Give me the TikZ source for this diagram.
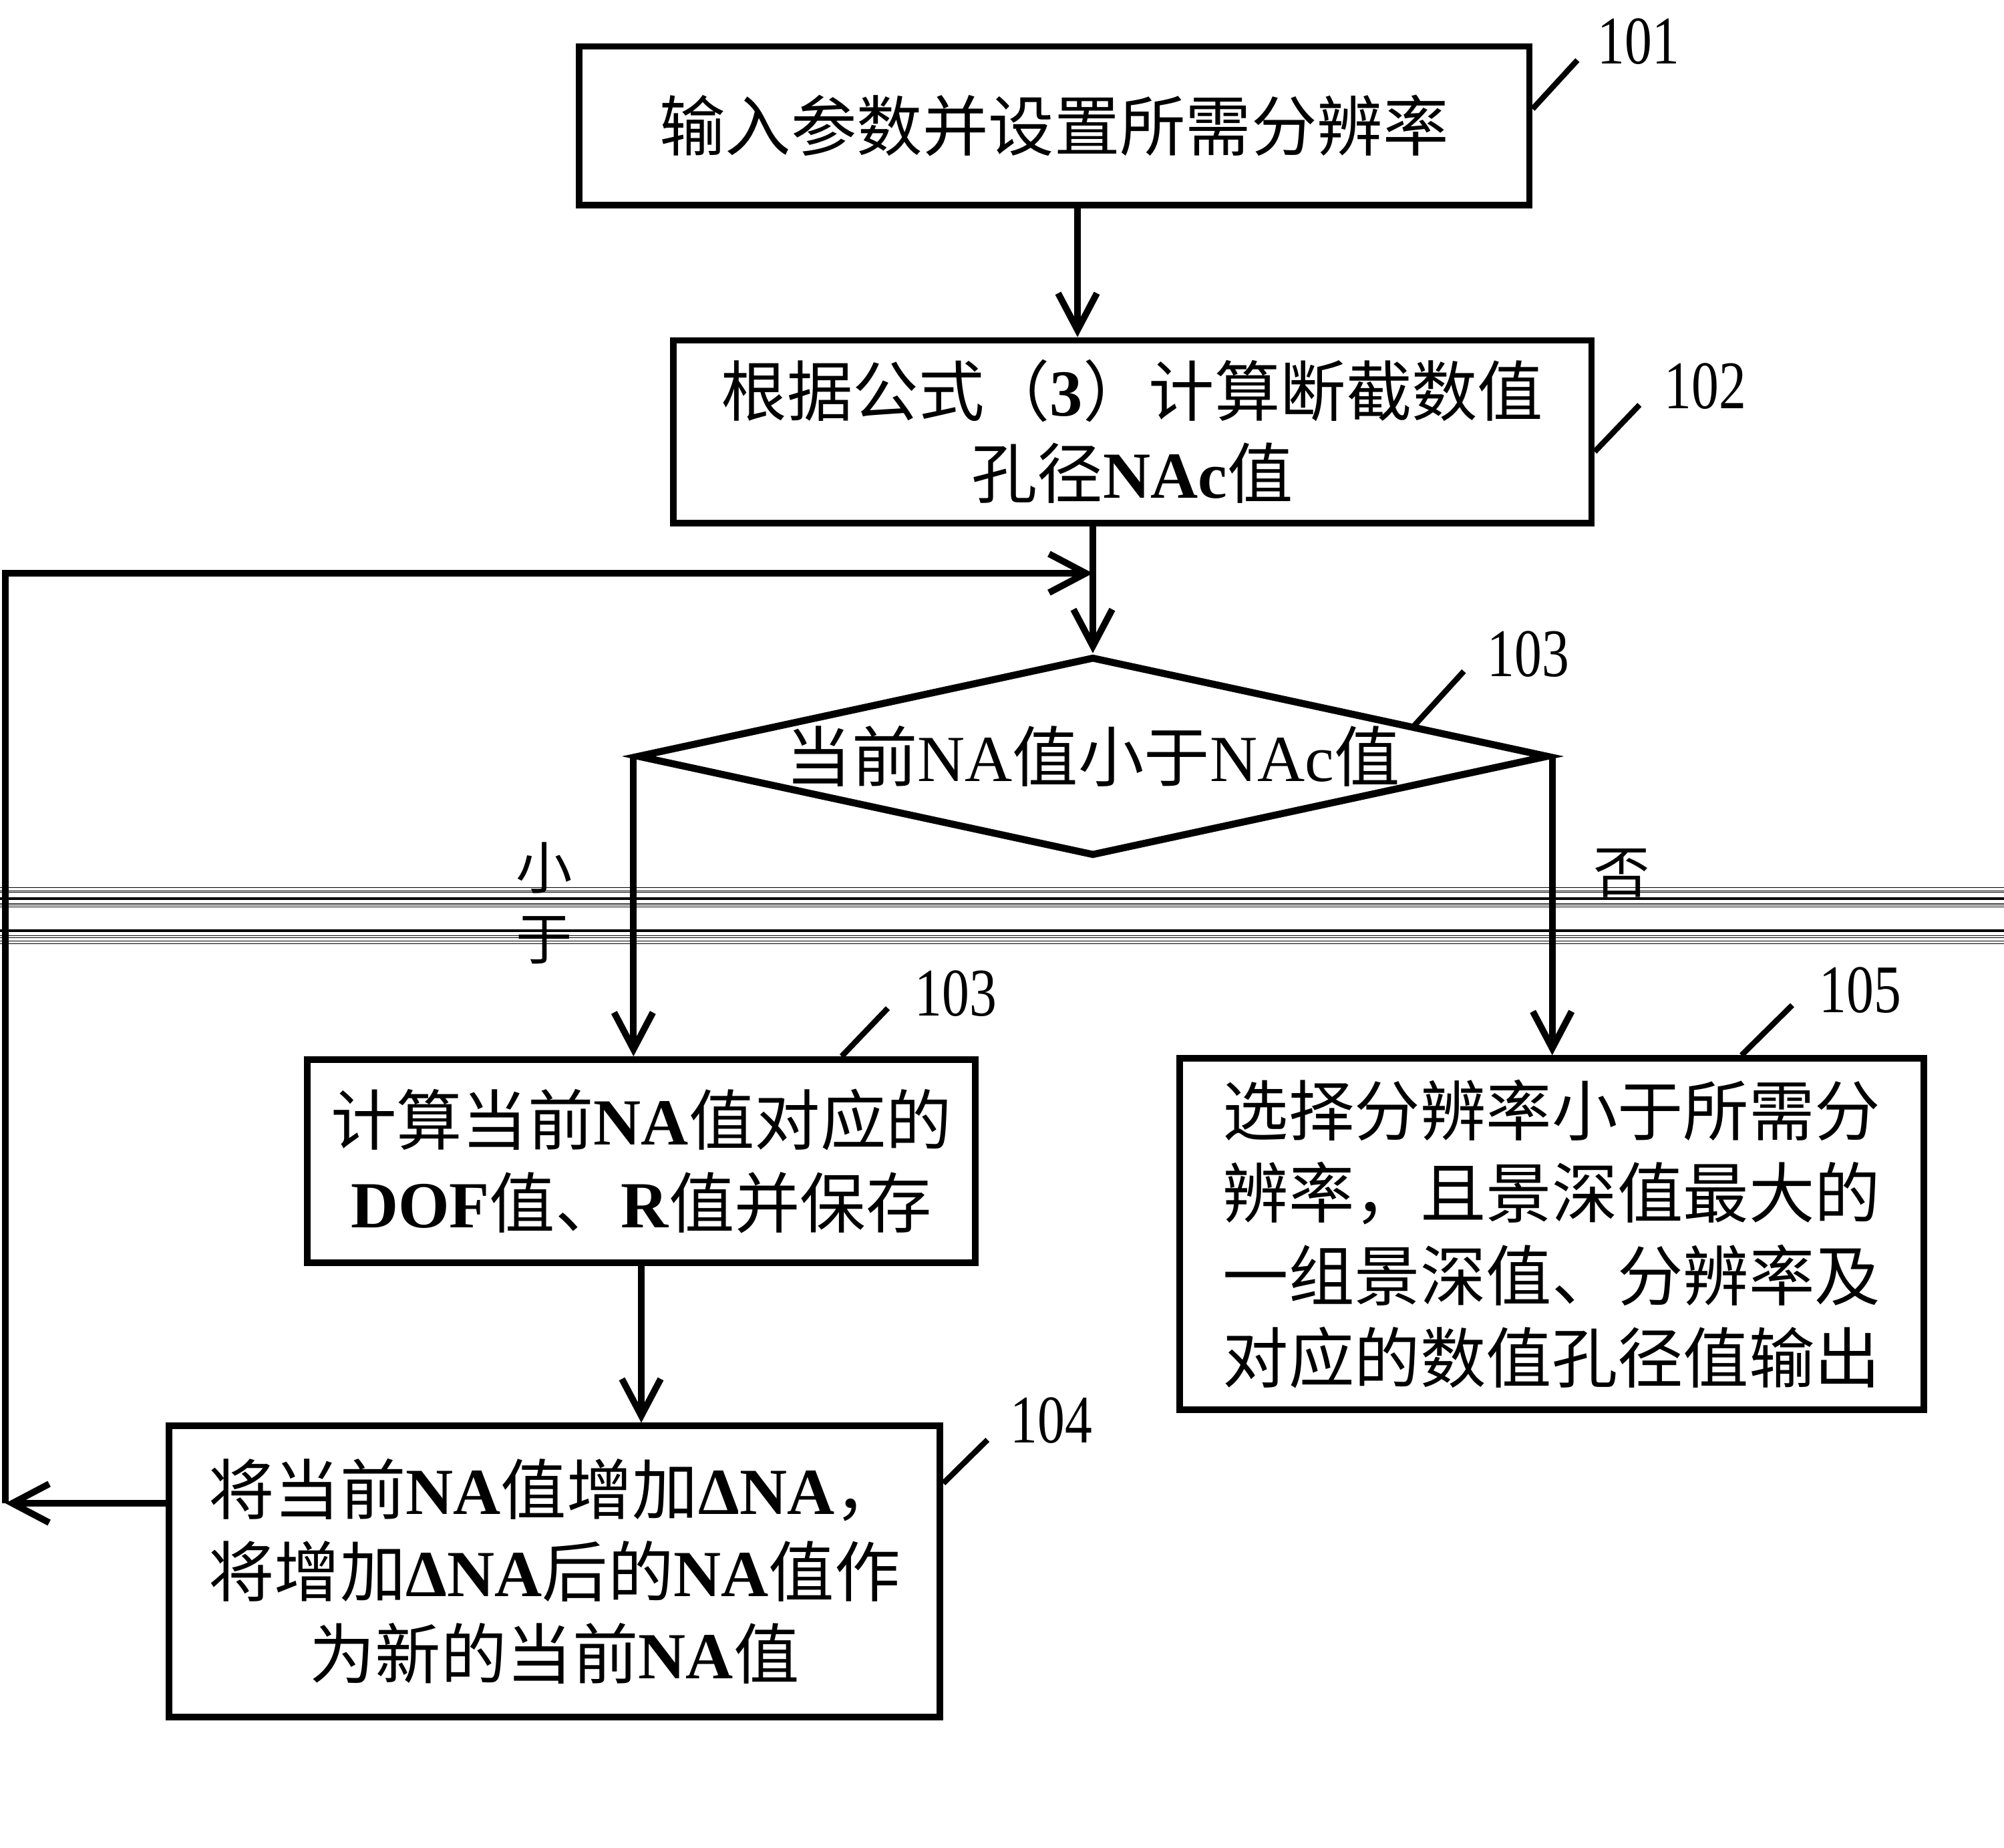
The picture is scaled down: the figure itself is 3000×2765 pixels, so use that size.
\documentclass[tikz,border=0pt]{standalone}
\usepackage{fontspec}
\setmainfont{Liberation Serif}
\newfontfamily\cjk{Noto Sans CJK SC}
\newfontfamily\numfont[FakeStretch=0.8]{Liberation Serif}
\usetikzlibrary{shapes.geometric,arrows.meta,calc}
\newcommand\la[1]{{\rmfamily\bfseries #1}}
\newcommand\lr[1]{{\rmfamily #1}}

\begin{document}
\begin{tikzpicture}[x=0.01cm,y=-0.01cm,
    box/.style={draw,line width=2.8pt,rectangle,inner sep=0pt,align=center,
      font=\cjk\fontsize{28}{35}\selectfont},
    decision/.style={draw,line width=3pt,diamond,inner sep=0pt,
      minimum width=13.64cm,minimum height=2.98cm},
    num/.style={inner sep=0pt,font=\numfont\fontsize{29}{29}\selectfont},
    conn/.style={line width=2.8pt,-{Straight Barb[length=0.55cm,width=0.58cm]}},
    leader/.style={line width=2.4pt},
    branch/.style={inner sep=0pt,align=center,font=\cjk\fontsize{24}{30}\selectfont}]
    \useasboundingbox (0,0) rectangle (3000,2765);

    % Steps
    \node[box,minimum width=14.22cm,minimum height=2.37cm] (b101) at (1578,188)
      {输入参数并设置所需分辨率};
    \node[box,minimum width=13.74cm,minimum height=2.73cm] (b102) at (1695,646)
      {根据公式（\la{3}）计算断截数值\\孔径\la{NAc}值};
    \node[decision] (d) at (1636,1132) {};
    \node[inner sep=0pt,font=\cjk\fontsize{28}{35}\selectfont] (dtxt) at (d.center)
      {当前\lr{NA}值小于\lr{NAc}值};
    \node[box,minimum width=10cm,minimum height=3.04cm] (b103) at (960,1738)
      {计算当前\la{NA}值对应的\\\la{DOF}值、\la{R}值并保存};
    \node[box,minimum width=11.14cm,minimum height=5.25cm] (b105) at (2323,1847)
      {选择分辨率小于所需分\\辨率，且景深值最大的\\一组景深值、分辨率及\\对应的数值孔径值输出};
    \node[box,minimum width=11.54cm,minimum height=4.35cm] (b104) at (830,2352)
      {将当前\la{NA}值增加\la{ΔNA}，\\将增加\la{ΔNA}后的\la{NA}值作\\为新的当前\la{NA}值};

    % Reference numbers
    \node[num] (l101) at (2453,62) {101};
    \node[num] (l102) at (2553,578) {102};
    \node[num] (l103a) at (2288,979) {103};
    \node[num] (l103b) at (1431,1487) {103};
    \node[num] (l105) at (2785,1482) {105};
    \node[num] (l104) at (1574,2126) {104};
    \draw[leader] (b101.east) ++(0,-25) -- ++(67,-73);
    \draw[leader] (b102.east) ++(0,30) -- ++(67,-70);
    \draw[leader] ($(d.north)!0.7!(d.east)$) -- ++(74,-81);
    \draw[leader] (b103.north) ++(300,0) -- ++(69,-72);
    \draw[leader] (b105.north) ++(284,0) -- ++(76,-75);
    \draw[leader] (b104.east) ++(0,-132) -- ++(66,-65);

    % Branch labels
    \node[branch] (yes) at (815,1352) {小\\于};
    \node[branch] (no) at (2428,1307) {否};

    % Flow
    \draw[conn] ([xshift=0.35cm]b101.south) -- ([xshift=0.35cm]b101.south |- b102.north);
    \draw[conn] (d.north |- b102.south) -- (d.north);
    \draw[conn] (d.west) -- (d.west |- b103.north);
    \draw[conn] (d.east) -- (d.east |- b105.north);
    \draw[conn] (b103.south) -- (b103.south |- b104.north);
    % Loop back
    \coordinate (lpb) at (8,2250);
    \coordinate (lpt) at (8,858);
    \draw[conn] (b104.west |- lpb) -- (lpb);
    \draw[conn] (lpb) -- (lpt) -- (lpt -| d.north);

    % Scanner streaks
    \foreach \yy in {1328,1333,1335,1352,1354,1357,1400,1403,1408,1412}
      \draw[line width=0.3pt] (0,\yy) -- (3000,\yy);
    \foreach \yy in {1345,1393}
      \draw[line width=1.4pt] (0,\yy) -- (3000,\yy);
\end{tikzpicture}
\end{document}
